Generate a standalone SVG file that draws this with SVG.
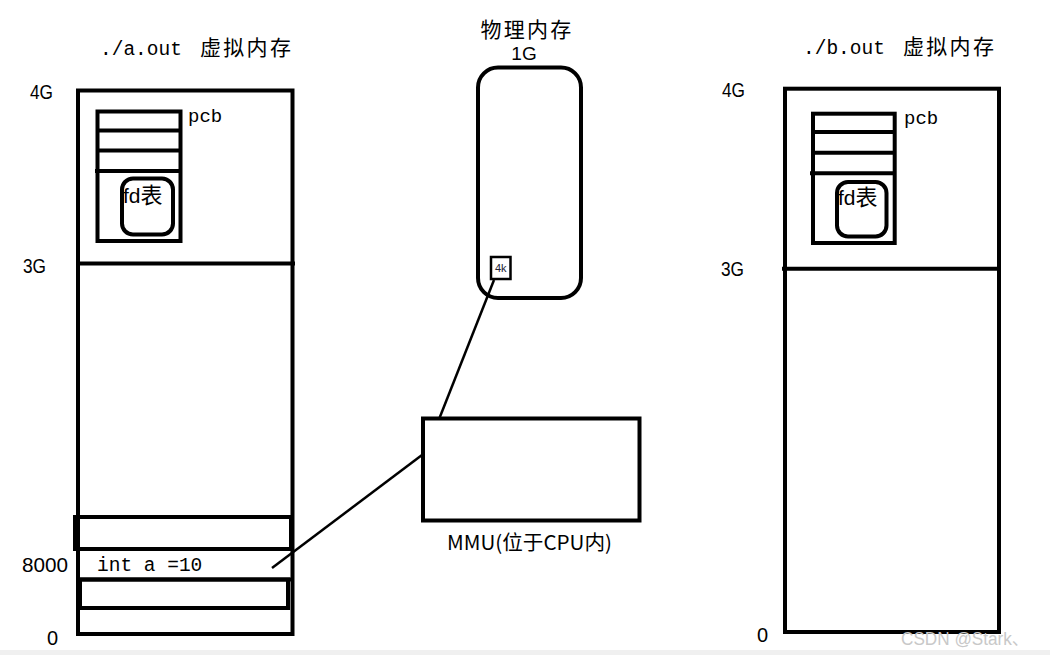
<svg xmlns="http://www.w3.org/2000/svg" width="1050" height="655" viewBox="0 0 1050 655">
<style>
.b{fill:none;stroke:#000;stroke-width:4}
.t{font-family:"Liberation Sans","Noto Sans CJK SC",sans-serif}
.m{font-family:"Liberation Mono","Noto Sans CJK SC",monospace;fill:#000}
.c{font-family:"Noto Sans CJK SC",sans-serif;fill:#000}
.n{font-family:"Liberation Sans",sans-serif;font-size:20px;fill:#000}
</style>
<rect x="0" y="0" width="1050" height="655" fill="#fff"/>
<rect x="0" y="650" width="1050" height="5" fill="#f0f0f0"/>

<g id="vm-a">
  <text class="m" x="100" y="55" font-size="19.5">./a.out</text>
  <text class="c" x="200" y="55" font-size="21" letter-spacing="2.3">虚拟内存</text>
  <text class="n" x="30" y="99" textLength="23" lengthAdjust="spacingAndGlyphs">4G</text>
  <text class="n" x="23" y="273" textLength="23" lengthAdjust="spacingAndGlyphs">3G</text>
  <text class="n" x="22" y="572" textLength="46" lengthAdjust="spacingAndGlyphs">8000</text>
  <text class="n" x="47" y="645">0</text>
  <rect class="b" x="78" y="90.5" width="214.5" height="543.5"/>
  <line class="b" x1="78" y1="263.5" x2="295" y2="263.5"/>
  <rect class="b" x="75" y="517" width="216" height="32"/>
  <line class="b" x1="78" y1="579.5" x2="292" y2="579.5"/>
  <rect class="b" x="80" y="579.5" width="208" height="28.5"/>
  <text class="m" x="97" y="571" font-size="19.5">int a =10</text>
</g>

<g id="pcb-a">
  <rect class="b" x="97.5" y="111.5" width="83" height="129.5"/>
  <line class="b" x1="97.5" y1="130.5" x2="180.5" y2="130.5"/>
  <line class="b" x1="97.5" y1="150.5" x2="180.5" y2="150.5"/>
  <line class="b" x1="95" y1="171" x2="180.5" y2="171"/>
  <text class="m" x="188" y="122" font-size="19">pcb</text>
  <rect class="b" x="122" y="178.5" width="51" height="56" rx="11"/>
  <text x="123" y="203"><tspan class="n" style="font-size:21px">fd</tspan><tspan class="c" font-size="22">表</tspan></text>
</g>

<g id="physical">
  <text class="c" x="527" y="37" font-size="21" letter-spacing="2.3" text-anchor="middle">物理内存</text>
  <text class="n" x="524" y="60" style="font-size:19px" text-anchor="middle">1G</text>
  <rect class="b" x="478" y="67.5" width="103" height="230.5" rx="20"/>
  <rect x="491" y="257" width="19.5" height="22" fill="#fff" stroke="#000" stroke-width="2.5"/>
  <text class="t" x="500.7" y="272" font-size="11" text-anchor="middle" fill="#223">4k</text>
</g>

<g id="mmu">
  <rect class="b" x="423" y="418.5" width="216.5" height="102"/>
  <text class="c" x="447" y="550" font-size="20" textLength="165" lengthAdjust="spacingAndGlyphs">MMU(位于CPU内)</text>
</g>

<g id="vm-b">
  <text class="m" x="803" y="54" font-size="19.5">./b.out</text>
  <text class="c" x="903" y="54" font-size="21" letter-spacing="2.3">虚拟内存</text>
  <text class="n" x="722" y="97" textLength="23" lengthAdjust="spacingAndGlyphs">4G</text>
  <text class="n" x="721" y="276" textLength="23" lengthAdjust="spacingAndGlyphs">3G</text>
  <text class="n" x="757" y="642">0</text>
  <rect class="b" x="785" y="88.7" width="214" height="543.3"/>
  <line class="b" x1="782" y1="268.7" x2="999" y2="268.7"/>
</g>

<g id="pcb-b">
  <rect class="b" x="813" y="113.7" width="81.7" height="129.3"/>
  <line class="b" x1="813" y1="132" x2="894.7" y2="132"/>
  <line class="b" x1="813" y1="152.7" x2="894.7" y2="152.7"/>
  <line class="b" x1="810" y1="173.3" x2="894.7" y2="173.3"/>
  <text class="m" x="904" y="123.5" font-size="19">pcb</text>
  <rect class="b" x="837" y="182" width="49.5" height="54.5" rx="11"/>
  <text x="838" y="205"><tspan class="n" style="font-size:21px">fd</tspan><tspan class="c" font-size="22">表</tspan></text>
</g>

<g id="connectors">
  <line x1="272" y1="568" x2="422" y2="455" stroke="#000" stroke-width="2.5"/>
  <line x1="494" y1="280" x2="439.5" y2="418" stroke="#000" stroke-width="2.5"/>
</g>

<text class="t" x="901" y="645" font-size="18" fill="#c8c8c8" textLength="128" lengthAdjust="spacingAndGlyphs">CSDN @Stark、</text>
</svg>
